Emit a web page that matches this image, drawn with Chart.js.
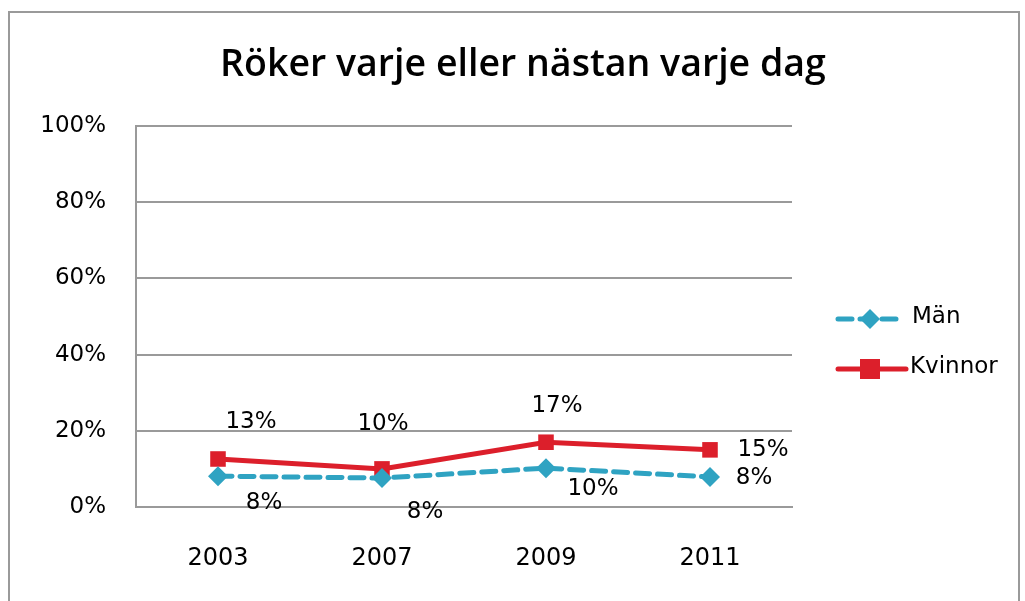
<!DOCTYPE html>
<html>
<head>
<meta charset="utf-8">
<script src="https://cdn.jsdelivr.net/npm/chart.js@4.4.1/dist/chart.umd.min.js"></script>
<style>
  html, body { margin: 0; padding: 0; background: #fff; }
  #frame { position: absolute; left: 8px; top: 11px; width: 1008px; height: 600px;
           border-left: 2px solid #9a9a9a; border-top: 2px solid #9a9a9a; border-right: 2px solid #9a9a9a; }
  #wrap { position: absolute; left: 0; top: 0; width: 1025px; height: 601px; }
</style>
</head>
<body>
<div id="frame"></div>
<div id="wrap"><canvas id="c" width="1025" height="601"></canvas></div>
<script>
const categories = ['2003', '2007', '2009', '2011'];
const manValues = [8.1, 7.6, 10.2, 7.9];
const kvinnorValues = [12.6, 10, 17, 15];
const yTicks = [0, 20, 40, 60, 80, 100];
const seriesNames = ['Män', 'Kvinnor'];
const chartTitle = 'Röker varje eller nästan varje dag';

const TEAL = '#2fa3c2';
const RED = '#dc1f2b';
const FONT = '"DejaVu Sans", sans-serif';

const labelOffsets = [
  [[46, 27], [43, 34], [47, 21], [44, 1]],
  [[33, -37], [1, -45], [11, -36], [53, 0]]
];

const titlePlugin = {
  id: 'titlePlugin',
  afterDraw(chart) {
    const ctx = chart.ctx;
    ctx.save();
    let size = 36;
    ctx.font = '600 ' + size + 'px "Open Sans", sans-serif';
    const w = ctx.measureText(chartTitle).width;
    size = size * 606 / w;
    ctx.font = '600 ' + size.toFixed(2) + 'px "Open Sans", sans-serif';
    ctx.fillStyle = '#000';
    ctx.textAlign = 'center';
    ctx.textBaseline = 'alphabetic';
    ctx.fillText(chartTitle, 523, 76);
    ctx.restore();
  }
};

const dataLabels = {
  id: 'dataLabels',
  afterDatasetsDraw(chart) {
    const ctx = chart.ctx;
    ctx.save();
    ctx.font = '23px ' + FONT;
    ctx.fillStyle = '#000';
    ctx.textAlign = 'center';
    ctx.textBaseline = 'middle';
    chart.data.datasets.forEach((ds, di) => {
      const meta = chart.getDatasetMeta(di);
      meta.data.forEach((pt, i) => {
        const off = labelOffsets[di][i];
        ctx.fillText(Math.round(ds.data[i]) + '%', pt.x + off[0], pt.y + off[1]);
      });
    });
    ctx.restore();
  }
};

const customLegend = {
  id: 'customLegend',
  afterDraw(chart) {
    const ctx = chart.ctx;
    ctx.save();
    const items = [
      { y: 319, color: TEAL, dash: [14, 8], style: 'diamond', x2: 896, tx: 912 },
      { y: 369, color: RED, dash: [], style: 'square', x2: 906, tx: 910 }
    ];
    items.forEach((it, k) => {
      ctx.strokeStyle = it.color;
      ctx.lineWidth = 5;
      ctx.lineCap = 'round';
      ctx.setLineDash(it.dash);
      ctx.beginPath();
      ctx.moveTo(838, it.y);
      ctx.lineTo(it.x2, it.y);
      ctx.stroke();
      ctx.setLineDash([]);
      ctx.fillStyle = it.color;
      const cx = 870;
      if (it.style === 'diamond') {
        ctx.beginPath();
        ctx.moveTo(cx, it.y - 10);
        ctx.lineTo(cx + 10, it.y);
        ctx.lineTo(cx, it.y + 10);
        ctx.lineTo(cx - 10, it.y);
        ctx.closePath();
        ctx.fill();
      } else {
        ctx.fillRect(cx - 10, it.y - 10, 20, 20);
      }
      ctx.fillStyle = '#000';
      ctx.font = '23px ' + FONT;
      ctx.textAlign = 'left';
      ctx.textBaseline = 'middle';
      ctx.fillText(seriesNames[k], it.tx, it.y - 2);
    });
    ctx.restore();
  }
};

new Chart(document.getElementById('c'), {
  type: 'line',
  data: {
    labels: categories,
    datasets: [
      {
        label: seriesNames[0],
        data: manValues,
        borderColor: TEAL,
        backgroundColor: TEAL,
        borderWidth: 5,
        borderDash: [14, 8],
        borderCapStyle: 'round',
        pointStyle: 'rectRot',
        pointRadius: 10,
        pointHoverRadius: 10,
        pointBorderWidth: 0,
        tension: 0
      },
      {
        label: seriesNames[1],
        data: kvinnorValues,
        borderColor: RED,
        backgroundColor: RED,
        borderWidth: 5,
        pointStyle: 'rect',
        pointRadius: 11,
        pointHoverRadius: 11,
        pointBorderWidth: 0,
        tension: 0
      }
    ]
  },
  options: {
    responsive: false,
    animation: false,
    layout: { padding: { left: 0, right: 233, top: 126, bottom: 0 } },
    plugins: {
      legend: { display: false },
      tooltip: { enabled: false },
      title: { display: false }
    },
    scales: {
      x: {
        offset: true,
        grid: { display: false, drawTicks: false },
        border: { display: true, color: '#9a9a9a', width: 2 },
        ticks: { color: '#000', font: { family: FONT, size: 24 }, padding: 37 },
        afterFit(axis) { axis.height = 94; }
      },
      y: {
        min: 0,
        max: 100,
        afterBuildTicks(axis) { axis.ticks = yTicks.map(v => ({ value: v })); },
        grid: { color: '#9a9a9a', lineWidth: 2, drawTicks: false },
        border: { display: true, color: '#9a9a9a', width: 2 },
        ticks: { color: '#000', font: { family: FONT, size: 23 }, padding: 30, callback: v => v + '%' },
        afterFit(axis) { axis.width = 136; }
      }
    }
  },
  plugins: [titlePlugin, dataLabels, customLegend]
});
</script>
</body>
</html>
